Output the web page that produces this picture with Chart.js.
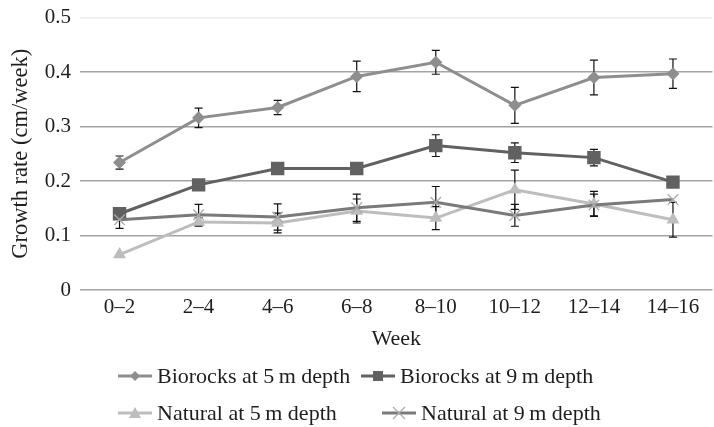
<!DOCTYPE html>
<html>
<head>
<meta charset="utf-8">
<script src="https://cdn.jsdelivr.net/npm/chart.js@4/dist/chart.umd.min.js"></script>
<style>
  html, body { margin: 0; padding: 0; background: #fff; overflow: hidden; }
  #wrap { position: relative; width: 722px; height: 427px; overflow: hidden; }
  #plot { position: absolute; left: 0; top: -4px; width: 722px; height: 427px; }
  #legend { position: absolute; left: 0; top: 0; width: 714px; height: 427px; pointer-events: none; }
  .item { position: absolute; display: flex; align-items: center; white-space: nowrap;
          font-family: "Liberation Serif", "DejaVu Serif", serif; font-size: 22px; color: #1e1e1e;
          transform: translateY(-50%); line-height: 1; }
  .item canvas { margin-right: 5px; }
</style>
</head>
<body>
<div id="wrap"><div id="plot"><canvas id="c"></canvas></div><div id="legend"></div></div>
<script>
// Week intervals on the x axis
const weeks = ['0\u20132', '2\u20134', '4\u20136', '6\u20138', '8\u201310', '10\u201312', '12\u201314', '14\u201316'];

// Mean growth rate (cm/week) and error (±) per interval
const biorocks5 = [0.234, 0.316, 0.335, 0.392, 0.418, 0.339, 0.390, 0.397];
const biorocks5Err = [0.012, 0.018, 0.013, 0.028, 0.022, 0.033, 0.032, 0.027];

const biorocks9 = [0.140, 0.193, 0.223, 0.223, 0.265, 0.252, 0.243, 0.198];
const biorocks9Err = [0, 0, 0.010, 0.004, 0.020, 0.018, 0.015, 0.004];

const natural5 = [0.065, 0.125, 0.123, 0.145, 0.132, 0.184, 0.158, 0.129];
const natural5Err = [0, 0.008, 0.018, 0.022, 0.021, 0.036, 0.023, 0.032];

const natural9 = [0.129, 0.138, 0.134, 0.151, 0.161, 0.137, 0.156, 0.166];
const natural9Err = [0.016, 0.019, 0.024, 0.025, 0.029, 0.020, 0.020, 0];

const yTicks = [0, 0.1, 0.2, 0.3, 0.4, 0.5];

const FONT = '"Liberation Serif", "DejaVu Serif", serif';
const TEXT = '#1e1e1e';

// Small legend swatch: a line segment with the series marker in the middle
function swatch(color, markerColor, shape) {
  const c = document.createElement('canvas');
  c.width = 34; c.height = 16;
  const g = c.getContext('2d');
  g.strokeStyle = color; g.lineWidth = 3;
  g.beginPath(); g.moveTo(0, 8); g.lineTo(34, 8); g.stroke();
  g.fillStyle = markerColor; g.strokeStyle = markerColor;
  g.beginPath();
  if (shape === 'diamond') {
    g.moveTo(17, 3); g.lineTo(22, 8); g.lineTo(17, 13); g.lineTo(12, 8); g.closePath(); g.fill();
  } else if (shape === 'square') {
    g.rect(12, 3, 10, 10); g.fill();
  } else if (shape === 'triangle') {
    g.moveTo(17, 2); g.lineTo(23, 13); g.lineTo(11, 13); g.closePath(); g.fill();
  } else if (shape === 'cross') {
    g.lineWidth = 1.2;
    g.moveTo(11, 2); g.lineTo(23, 14); g.moveTo(23, 2); g.lineTo(11, 14); g.stroke();
  }
  return c;
}

const C_B5 = '#8e8e8e', C_B9 = '#616161', C_N5 = '#bdbdbd', C_N9 = '#7a7a7a', C_N9M = '#ababab';

const series = [
  { label: 'Biorocks at 5\u2009m depth', data: biorocks5, err: biorocks5Err, color: C_B5, marker: C_B5,
    pointStyle: 'rectRot', radius: 6.5, shape: 'diamond', slot: [118, 376] },
  { label: 'Biorocks at 9\u2009m depth', data: biorocks9, err: biorocks9Err, color: C_B9, marker: C_B9,
    pointStyle: 'rect', radius: 9.5, shape: 'square', slot: [361, 376] },
  { label: 'Natural at 5\u2009m depth', data: natural5, err: natural5Err, color: C_N5, marker: C_N5,
    pointStyle: 'triangle', radius: 7.5, shape: 'triangle', slot: [118, 413] },
  { label: 'Natural at 9\u2009m depth', data: natural9, err: natural9Err, color: C_N9, marker: C_N9M,
    pointStyle: 'crossRot', radius: 7.5, shape: 'cross', slot: [382, 413] }
];

// Vertical error bars with caps, placed through the chart's own scales
const errorBars = {
  id: 'errorBars',
  beforeDatasetsDraw(chart) {
    const { ctx, scales: { x, y } } = chart;
    ctx.save();
    ctx.strokeStyle = '#111';
    ctx.lineWidth = 1.2;
    chart.data.datasets.forEach((ds) => {
      ds.data.forEach((v, i) => {
        const e = ds.errors[i];
        if (!e) return;
        const px = x.getPixelForValue(i);
        const top = y.getPixelForValue(v + e);
        const bot = y.getPixelForValue(v - e);
        ctx.beginPath();
        ctx.moveTo(px, top); ctx.lineTo(px, bot);
        ctx.moveTo(px - 4, top); ctx.lineTo(px + 4, top);
        ctx.moveTo(px - 4, bot); ctx.lineTo(px + 4, bot);
        ctx.stroke();
      });
    });
    ctx.restore();
  }
};

// Legend in two rows below the axis title
const legendBox = document.getElementById('legend');
series.forEach((s) => {
  const item = document.createElement('div');
  item.className = 'item';
  item.style.left = s.slot[0] + 'px';
  item.style.top = s.slot[1] + 'px';
  item.appendChild(swatch(s.color, s.marker, s.shape));
  const span = document.createElement('span');
  span.textContent = s.label;
  item.appendChild(span);
  legendBox.appendChild(item);
});

new Chart(document.getElementById('c'), {
  type: 'line',
  data: {
    labels: weeks,
    datasets: series.map((s, k) => ({
      label: s.label,
      data: s.data,
      errors: s.err,
      borderColor: s.color,
      backgroundColor: s.marker,
      borderWidth: 3,
      pointStyle: s.pointStyle,
      pointRadius: s.radius,
      pointHoverRadius: s.radius,
      pointBackgroundColor: s.marker,
      pointBorderColor: s.marker,
      pointBorderWidth: s.shape === 'cross' ? 1.3 : 0,
      tension: 0,
      order: 4 - k
    }))
  },
  options: {
    responsive: true,
    maintainAspectRatio: false,
    animation: false,
    events: [],
    layout: { padding: { top: 12, right: 1, left: 0, bottom: 71 } },
    scales: {
      x: {
        offset: true,
        afterFit(scale) { scale.height = 62; },
        grid: { display: false, drawTicks: false },
        border: { display: false },
        ticks: { color: TEXT, font: { family: FONT, size: 21 }, padding: 5, maxRotation: 0 },
        title: { display: true, text: 'Week', color: TEXT, font: { family: FONT, size: 22 }, padding: { top: 0, bottom: 0 } }
      },
      y: {
        min: 0, max: 0.5,
        afterBuildTicks(scale) { scale.ticks = yTicks.map(v => ({ value: v })); },
        afterFit(scale) { scale.width = 80; },
        grid: {
          drawTicks: false,
          lineWidth: 1.6,
          color: (ctx) => ctx.tick && ctx.tick.value === 0.5 ? '#ededed' : '#a4a4a4'
        },
        border: { display: false },
        ticks: {
          color: TEXT, font: { family: FONT, size: 21 }, padding: 9,
          callback: (v) => String(+v.toFixed(1))
        },
        title: { display: true, text: 'Growth rate (cm/week)', color: TEXT, font: { family: FONT, size: 22.5 }, padding: { top: 8, bottom: 0 } }
      }
    },
    plugins: {
      tooltip: { enabled: false },
      legend: { display: false }
    }
  },
  plugins: [errorBars]
});
</script>
</body>
</html>
